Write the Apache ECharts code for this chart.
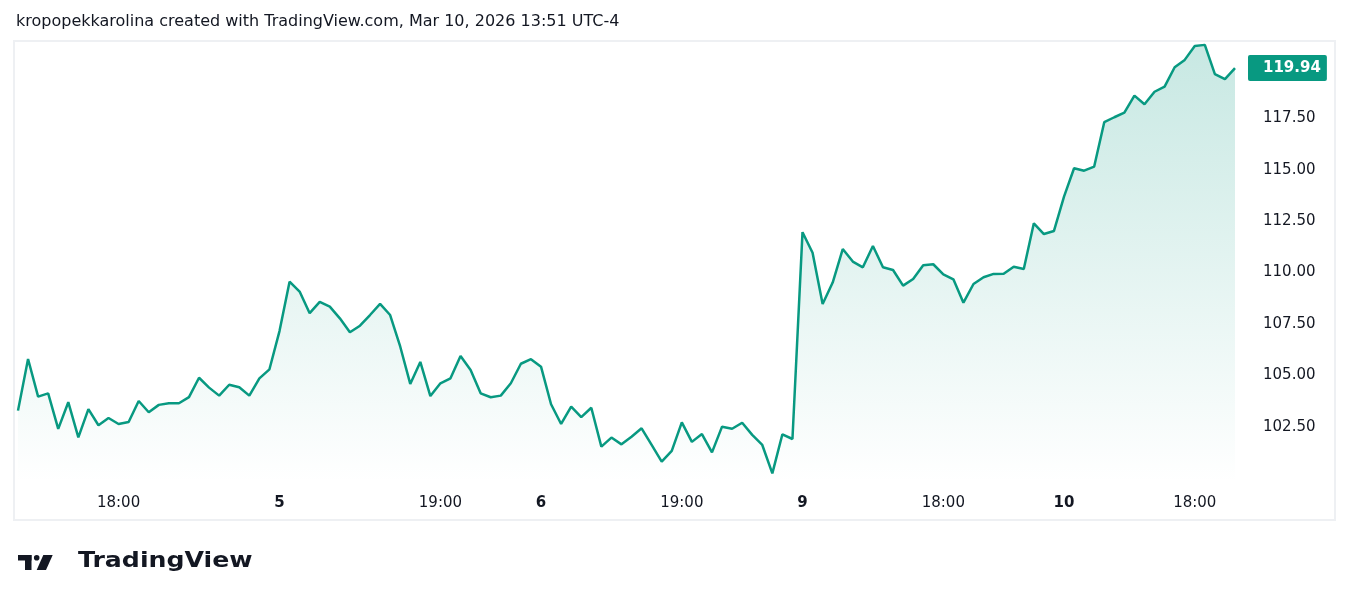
<!DOCTYPE html>
<html>
<head>
<meta charset="utf-8">
<script src="https://cdn.jsdelivr.net/npm/echarts@6/dist/echarts.min.js"></script>
<style>
  html, body { margin: 0; padding: 0; background: #fff; }
  #chart { width: 1350px; height: 611px; }
</style>
</head>
<body>
<div id="chart"></div>
<script>
// price series, one value per bar
var prices = [
    103.28, 105.79, 103.96, 104.12, 102.39, 103.69, 101.98, 103.35, 102.57, 102.92,
    102.63, 102.73, 103.75, 103.20, 103.56, 103.64, 103.64, 103.94, 104.88, 104.40,
    104.01, 104.54, 104.42, 104.01, 104.85, 105.29, 107.15, 109.55, 109.07, 108.02,
    108.57, 108.34, 107.77, 107.09, 107.41, 107.93, 108.47, 107.93, 106.40, 104.58,
    105.65, 103.99, 104.61, 104.85, 105.94, 105.26, 104.12, 103.93, 104.01, 104.61,
    105.56, 105.78, 105.42, 103.59, 102.63, 103.47, 102.96, 103.42, 101.53, 101.97,
    101.64, 102.01, 102.42, 101.61, 100.80, 101.32, 102.71, 101.76, 102.14, 101.25,
    102.50, 102.40, 102.69, 102.10, 101.61, 100.23, 102.13, 101.90, 111.96, 110.96,
    108.47, 109.51, 111.14, 110.53, 110.25, 111.29, 110.25, 110.12, 109.36, 109.68,
    110.35, 110.40, 109.91, 109.67, 108.53, 109.44, 109.77, 109.93, 109.94, 110.28,
    110.17, 112.39, 111.87, 112.02, 113.69, 115.07, 114.95, 115.15, 117.31, 117.55,
    117.77, 118.60, 118.18, 118.79, 119.04, 119.98, 120.34, 121.02, 121.07, 119.65,
    119.40, 119.94
];

// time scale labels: bar index -> text (day starts are bold)
var tickIndex = [10, 26, 42, 52, 66, 78, 92, 104, 117];
var tickLabels = ['18:00', '5', '19:00', '6', '19:00', '9', '18:00', '10', '18:00'];
var tickBold = [false, true, false, true, false, true, false, true, false];

var priceTicks = [102.5, 105, 107.5, 110, 112.5, 115, 117.5];
var lastPrice = 119.94;

var categories = prices.map(function (v, i) { return String(i); });

var chartDom = document.getElementById('chart');
var myChart = echarts.init(chartDom);
var option;

var green = '#089981';
var textColor = '#131722';
var font = 'DejaVu Sans';

option = {
    animation: false,
    backgroundColor: '#fff',
    grid: {
        left: 18,
        right: 115,
        top: 42,
        bottom: 128
    },
    graphic: [
        {
            type: 'rect',
            shape: { x: 14, y: 41, width: 1321, height: 479 },
            style: { fill: 'none', stroke: '#eef0f3', lineWidth: 2 },
            silent: true,
            z: -1
        },
        {
            type: 'text',
            left: 16,
            top: 14,
            style: {
                text: 'kropopekkarolina created with TradingView.com, Mar 10, 2026 13:51 UTC-4',
                font: '16px "DejaVu Sans"',
                fill: textColor
            }
        },
        // TradingView logo mark
        {
            type: 'group',
            left: 18,
            top: 555,
            children: [
                { type: 'rect', shape: { x: 0, y: 0, width: 13.5, height: 5.5 }, style: { fill: '#131722' } },
                { type: 'rect', shape: { x: 7, y: 0, width: 6.5, height: 15 }, style: { fill: '#131722' } },
                { type: 'circle', shape: { cx: 18.7, cy: 2.8, r: 2.8 }, style: { fill: '#131722' } },
                { type: 'polygon', shape: { points: [[25.3, 0], [34.7, 0], [28, 15], [18.7, 15]] }, style: { fill: '#131722' } }
            ]
        },
        {
            type: 'text',
            x: 78,
            y: 551,
            scaleX: 1.2,
            style: {
                text: 'TradingView',
                font: 'bold 21px "DejaVu Sans"',
                fill: '#131722'
            }
        }
    ],
    xAxis: {
        type: 'category',
        data: categories,
        boundaryGap: false,
        axisLine: { show: false },
        axisTick: { show: false },
        splitLine: { show: false },
        axisLabel: {
            margin: 13,
            interval: function (idx) {
                return tickIndex.indexOf(idx) !== -1;
            },
            formatter: function (val, idx) {
                var k = tickIndex.indexOf(idx);
                if (k === -1) return '';
                return tickBold[k] ? '{b|' + tickLabels[k] + '}' : '{n|' + tickLabels[k] + '}';
            },
            rich: {
                n: { fontFamily: font, fontSize: 15, color: textColor },
                b: { fontFamily: font, fontSize: 15, fontWeight: 'bold', color: textColor }
            }
        }
    },
    yAxis: {
        type: 'value',
        position: 'right',
        min: 99.76,
        max: 121.21,
        axisLine: { show: false },
        axisTick: { show: false },
        splitLine: { show: false },
        axisLabel: {
            customValues: priceTicks,
            margin: 28,
            fontFamily: font,
            fontSize: 15,
            color: textColor,
            formatter: function (v) { return v.toFixed(2); }
        }
    },
    series: [
        {
            name: 'Price',
            type: 'line',
            data: prices,
            symbol: 'none',
            lineStyle: { color: green, width: 2.5 },
            itemStyle: { color: green },
            areaStyle: {
                color: new echarts.graphic.LinearGradient(0, 0, 0, 1, [
                    { offset: 0, color: 'rgba(8,153,129,0.32)' },
                    { offset: 1, color: 'rgba(8,153,129,0)' }
                ])
            },
            markLine: {
                silent: true,
                symbol: 'none',
                lineStyle: { color: 'rgba(0,0,0,0)', width: 0, opacity: 1 },
                label: {
                    show: true,
                    position: 'end',
                    distance: 13,
                    opacity: 1,
                    backgroundColor: green,
                    color: '#fff',
                    fontFamily: font,
                    fontSize: 15,
                    fontWeight: 'bold',
                    padding: [6, 6, 5, 15],
                    borderRadius: 2,
                    formatter: function () { return lastPrice.toFixed(2); }
                },
                data: [{ yAxis: lastPrice }]
            }
        }
    ]
};

option && myChart.setOption(option);
</script>
</body>
</html>
